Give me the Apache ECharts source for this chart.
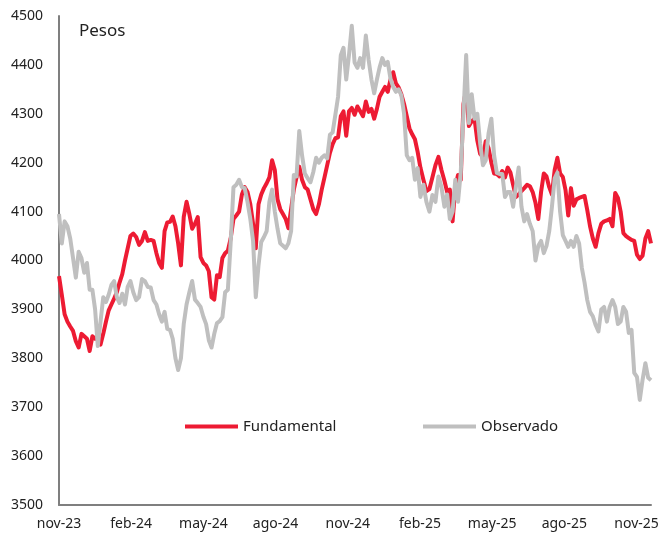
<!DOCTYPE html>
<html>
<head>
<meta charset="utf-8">
<script src="https://cdn.jsdelivr.net/npm/echarts@6/dist/echarts.min.js"></script>
<style>
  html, body { margin: 0; padding: 0; background: #fff; }
  #chart { width: 663px; height: 534px; }
</style>
</head>
<body>
<div id="chart"></div>
<script>
// observaciones cada 3.5 dias desde el 1 de noviembre de 2023
const startDate = '2023-11-01'
const stepDays = 3.5

const quarterLabels = ['nov-23', 'feb-24', 'may-24', 'ago-24', 'nov-24', 'feb-25', 'may-25', 'ago-25', 'nov-25']

const fundamental = [
  3968, 3930, 3890, 3875, 3865, 3856, 3835, 3822, 3850, 3845,
  3840, 3815, 3845, 3840, 3845, 3828, 3850, 3875, 3898, 3910,
  3922, 3935, 3955, 3972, 4000, 4025, 4050, 4055, 4048, 4032,
  4040, 4058, 4040, 4042, 4040, 4015, 3995, 3985, 4060, 4078,
  4079, 4090, 4070, 4035, 3990, 4089, 4120, 4095, 4065, 4075,
  4089, 4007, 3995, 3990, 3978, 3925, 3920, 3970, 3966, 4005,
  4015, 4020, 4045, 4085, 4092, 4100, 4135, 4150, 4140, 4115,
  4075, 4025, 4115, 4135, 4148, 4158, 4170, 4205, 4185, 4125,
  4105, 4095, 4085, 4066, 4105, 4145, 4170, 4192, 4165, 4150,
  4145, 4125, 4105, 4095, 4115, 4145, 4170, 4195, 4220, 4238,
  4250, 4252, 4295, 4305, 4255, 4305, 4312, 4298, 4315, 4305,
  4295, 4325, 4304, 4310, 4290, 4310, 4335, 4345, 4355, 4345,
  4370, 4385, 4362, 4354, 4340, 4320, 4295, 4270, 4258, 4248,
  4222, 4190, 4165, 4142, 4146, 4170, 4195, 4212, 4185, 4163,
  4140, 4145, 4080, 4150, 4175, 4165, 4320, 4350, 4275, 4285,
  4290, 4245, 4218, 4212, 4244, 4230, 4200, 4178, 4177, 4172,
  4183, 4170, 4190, 4180, 4155, 4130, 4135, 4142, 4148, 4155,
  4152, 4140, 4118, 4085, 4140, 4178, 4172, 4150, 4135, 4185,
  4210, 4178, 4171, 4144, 4092, 4148, 4112, 4125, 4128, 4130,
  4132, 4103, 4070, 4045, 4028, 4056, 4075, 4080, 4082, 4085,
  4070, 4138, 4128, 4100, 4056, 4050, 4046, 4042, 4040, 4012,
  4003, 4010, 4045, 4060, 4035
]

const observado = [
  4095, 4035, 4080, 4070, 4045, 4005, 3965, 4018, 4005, 3975,
  3995, 3940, 3940, 3900, 3825, 3875, 3925, 3915, 3930, 3950,
  3958, 3925, 3913, 3932, 3910, 3946, 3958, 3935, 3919, 3925,
  3962, 3958, 3946, 3945, 3919, 3910, 3890, 3875, 3895, 3860,
  3858, 3840, 3800, 3776, 3800, 3870, 3910, 3935, 3958, 3920,
  3913, 3905, 3885, 3870, 3837, 3822, 3850, 3872, 3876, 3884,
  3935, 3940, 4036, 4150, 4155, 4165, 4150, 4148, 4120, 4085,
  4040, 3925, 3990, 4038, 4048, 4060, 4120, 4145, 4100, 4065,
  4035, 4030, 4025, 4035, 4060, 4175, 4172, 4265, 4215, 4178,
  4168, 4160, 4181, 4210, 4200, 4210, 4215, 4209, 4257, 4262,
  4298, 4335, 4420, 4435, 4370, 4420, 4480, 4405, 4394, 4414,
  4394, 4460, 4410, 4370, 4342, 4370, 4395, 4414, 4400, 4406,
  4372, 4355, 4345, 4350, 4338, 4300, 4215, 4205, 4210, 4165,
  4189, 4130, 4155, 4120, 4100, 4134, 4120, 4172, 4150, 4110,
  4135, 4085, 4100, 4165, 4120, 4180, 4300, 4420, 4281, 4340,
  4290, 4300, 4240, 4195, 4205, 4260, 4290, 4215, 4179, 4177,
  4177, 4130, 4140, 4140, 4110, 4150, 4190, 4110, 4080, 4095,
  4075, 4060, 4000, 4030, 4040, 4015, 4030, 4060, 4110, 4168,
  4180, 4100, 4052, 4040, 4028, 4040, 4028, 4050, 4035, 3985,
  3955, 3919, 3895, 3886, 3868, 3855, 3900, 3905, 3875, 3905,
  3919, 3905, 3870, 3875, 3905, 3895, 3852, 3858, 3770, 3762,
  3715, 3756, 3790, 3760, 3755
]

// fecha -> meses (fraccionarios) desde nov-23
function toMonths(d) {
  const y = d.getUTCFullYear(), m = d.getUTCMonth()
  const day = d.getUTCDate() - 1 + d.getUTCHours() / 24
  const dim = new Date(Date.UTC(y, m + 1, 0)).getUTCDate()
  return (y - 2023) * 12 + (m - 10) + day / dim
}

const t0 = new Date(startDate + 'T00:00:00Z').getTime()
const xs = fundamental.map((v, i) => toMonths(new Date(t0 + i * stepDays * 86400000)))

const font = "'Noto Sans', sans-serif"

const chart = echarts.init(document.getElementById('chart'))
chart.setOption({
  animation: false,
  textStyle: { fontFamily: font },
  grid: { left: 59, right: 12, top: 16, bottom: 29 },
  graphic: [{
    type: 'text', left: 79, top: 23,
    style: { text: 'Pesos', fontSize: 17, fill: '#222', fontFamily: font }
  }],
  legend: [
    {
      data: ['Fundamental'], left: 185, top: 419, padding: 0, icon: 'rect',
      itemWidth: 53, itemHeight: 4,
      textStyle: { fontSize: 15, color: '#222', fontFamily: font }
    },
    {
      data: ['Observado'], left: 423, top: 419, padding: 0, icon: 'rect',
      itemWidth: 53, itemHeight: 4,
      textStyle: { fontSize: 15, color: '#222', fontFamily: font }
    }
  ],
  xAxis: {
    type: 'value', min: 0, max: 24.6, interval: 3,
    axisLine: { lineStyle: { color: '#7f7f7f', width: 2 } },
    axisTick: { show: false },
    splitLine: { show: false },
    axisLabel: {
      fontSize: 14, color: '#222', margin: 12, showMaxLabel: false,
      formatter: v => (Math.abs(v / 3 - Math.round(v / 3)) < 1e-6 ? quarterLabels[Math.round(v / 3)] : '')
    }
  },
  yAxis: {
    type: 'value', min: 3500, max: 4500, interval: 100,
    axisLine: { show: true, lineStyle: { color: '#7f7f7f', width: 2 } },
    axisTick: { show: false },
    splitLine: { show: false },
    axisLabel: { fontSize: 14, color: '#222', margin: 16, formatter: v => String(v) }
  },
  series: [
    {
      name: 'Fundamental', type: 'line', showSymbol: false, symbol: 'none',
      color: '#ed1b33',
      lineStyle: { width: 4, join: 'round' },
      data: xs.map((x, i) => [x, fundamental[i]])
    },
    {
      name: 'Observado', type: 'line', showSymbol: false, symbol: 'none',
      color: '#bfbfbf',
      lineStyle: { width: 4, join: 'round' },
      data: xs.map((x, i) => [x, observado[i]])
    }
  ]
})
</script>
</body>
</html>
